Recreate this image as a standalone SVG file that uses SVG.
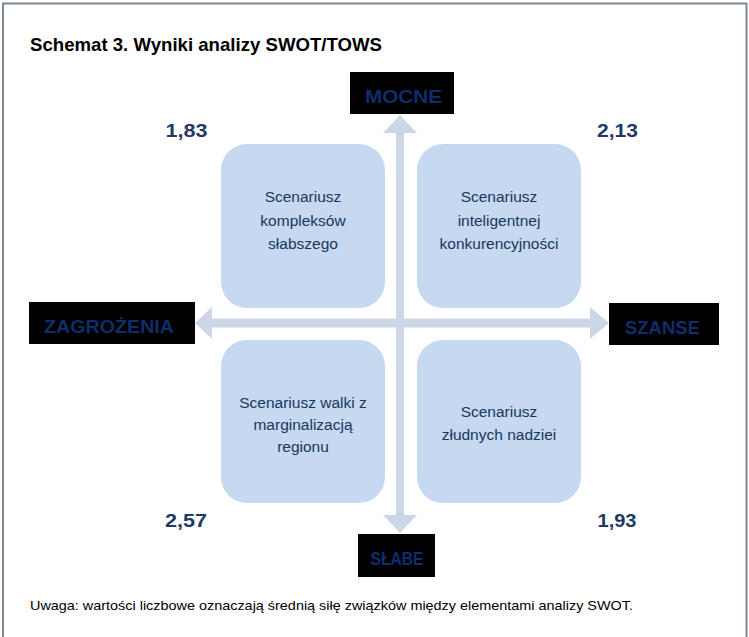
<svg xmlns="http://www.w3.org/2000/svg" width="749" height="637" viewBox="0 0 749 637">
<style>
.frame{fill:#fff;stroke:#7d8797;stroke-width:2}
.arrow{fill:#cdd6e7}
.box{fill:#c6d9f1}
.lbl{fill:#000}
.lt{font-family:"Liberation Sans",Arial,sans-serif;font-weight:bold;font-size:19px;fill:#0f2d6b;text-anchor:middle}
.bt{font-family:"Liberation Sans",Arial,sans-serif;font-size:15.5px;fill:#17375e;text-anchor:middle}
.num{font-family:"Liberation Sans",Arial,sans-serif;font-weight:bold;font-size:19px;fill:#1f3864;text-anchor:middle}
.title{font-family:"Liberation Sans",Arial,sans-serif;font-weight:bold;font-size:19px;fill:#000}
.note{font-family:"Liberation Sans",Arial,sans-serif;font-size:13px;fill:#000}
</style>
<rect class="frame" x="3" y="3.5" width="743.5" height="640"/>
<text class="title" x="30" y="51" textLength="352" lengthAdjust="spacingAndGlyphs">Schemat 3. Wyniki analizy SWOT/TOWS</text>
<g id="connectors">
<path class="arrow" d="M396 323 V133 H383 L400 115 L417 133 H404 V323 Z"/>
<path class="arrow" d="M396 323 V515 H383 L400 533 L417 515 H404 V323 Z"/>
<path class="arrow" d="M400 318.5 H212 V307 L195 323 L212 339 V327.5 H400 Z"/>
<path class="arrow" d="M400 318.5 H590 V307 L609 323 L590 339 V327.5 H400 Z"/>
</g>
<g id="box-tl">
<rect class="box" x="221" y="144" width="164" height="164" rx="26"/>
<text class="bt" x="303" y="202">Scenariusz</text>
<text class="bt" x="303" y="226">kompleksów</text>
<text class="bt" x="303" y="249">słabszego</text>
</g>
<g id="box-tr">
<rect class="box" x="417" y="144" width="164" height="164" rx="26"/>
<text class="bt" x="499" y="202">Scenariusz</text>
<text class="bt" x="499" y="226">inteligentnej</text>
<text class="bt" x="499" y="249">konkurencyjności</text>
</g>
<g id="box-bl">
<rect class="box" x="221" y="340" width="164" height="163" rx="26"/>
<text class="bt" x="303" y="408">Scenariusz walki z</text>
<text class="bt" x="303" y="430">marginalizacją</text>
<text class="bt" x="303" y="452">regionu</text>
</g>
<g id="box-br">
<rect class="box" x="417" y="340" width="164" height="163" rx="26"/>
<text class="bt" x="499" y="417">Scenariusz</text>
<text class="bt" x="499" y="440">złudnych nadziei</text>
</g>
<g id="lbl-mocne">
<rect class="lbl" x="350" y="72" width="104" height="42"/>
<text class="lt" x="403.5" y="103" textLength="77" lengthAdjust="spacingAndGlyphs">MOCNE</text>
</g>
<g id="lbl-zagrozenia">
<rect class="lbl" x="29" y="302" width="166" height="42"/>
<text class="lt" x="109" y="333" textLength="130" lengthAdjust="spacingAndGlyphs">ZAGROŻENIA</text>
</g>
<g id="lbl-szanse">
<rect class="lbl" x="609" y="303" width="110" height="42"/>
<text class="lt" x="662.5" y="334" textLength="75" lengthAdjust="spacingAndGlyphs">SZANSE</text>
</g>
<g id="lbl-slabe">
<rect class="lbl" x="358" y="534" width="77" height="43"/>
<text class="lt" x="397" y="565" textLength="53" lengthAdjust="spacingAndGlyphs">SŁABE</text>
</g>
<g id="values">
<text class="num" x="186.5" y="137" textLength="42" lengthAdjust="spacingAndGlyphs">1,83</text>
<text class="num" x="617.5" y="137" textLength="41" lengthAdjust="spacingAndGlyphs">2,13</text>
<text class="num" x="186" y="527" textLength="42" lengthAdjust="spacingAndGlyphs">2,57</text>
<text class="num" x="617" y="527" textLength="39" lengthAdjust="spacingAndGlyphs">1,93</text>
</g>
<text class="note" x="30" y="610" textLength="603" lengthAdjust="spacingAndGlyphs">Uwaga: wartości liczbowe oznaczają średnią siłę związków między elementami analizy SWOT.</text>
</svg>
